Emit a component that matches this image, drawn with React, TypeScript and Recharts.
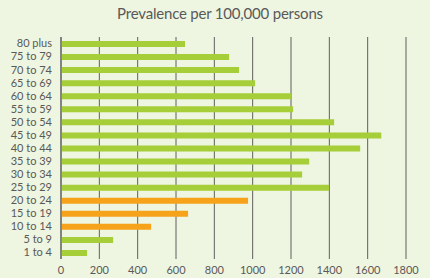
import { BarChart, Bar, XAxis, YAxis, CartesianGrid, Cell } from "recharts";

const ageGroups = [
  "80 plus",
  "75 to 79",
  "70 to 74",
  "65 to 69",
  "60 to 64",
  "55 to 59",
  "50 to 54",
  "45 to 49",
  "40 to 44",
  "35 to 39",
  "30 to 34",
  "25 to 29",
  "20 to 24",
  "15 to 19",
  "10 to 14",
  "5 to 9",
  "1 to 4",
];

const prevalence = [
  647, 877, 929, 1013, 1201, 1211, 1425, 1671, 1561, 1295, 1258, 1399, 976,
  663, 470, 272, 136,
];

const highlighted = ["20 to 24", "15 to 19", "10 to 14"];

const xTicks = [0, 200, 400, 600, 800, 1000, 1200, 1400, 1600, 1800];

const data = ageGroups.map((age, i) => ({ age, value: prevalence[i] }));

const GREEN = "#a6ce39";
const ORANGE = "#f7a21b";
const TEXT = "#595959";
const FONT = "Lato, 'Open Sans', sans-serif";

export default function App() {
  return (
    <div
      style={{
        position: "absolute",
        left: 0,
        top: 0,
        width: 430,
        height: 278,
        background: "#eef5e0",
        fontFamily: FONT,
      }}
    >
      <div
        style={{
          position: "absolute",
          top: 4,
          left: 0,
          width: 440,
          textAlign: "center",
          fontSize: 15,
          color: TEXT,
          letterSpacing: -0.2,
        }}
      >
        Prevalence per 100,000 persons
      </div>
      <BarChart
        width={430}
        height={278}
        data={data}
        layout="vertical"
        margin={{ top: 37, right: 24, bottom: 0, left: 0 }}
        barCategoryGap="55%"
      >
        <CartesianGrid
          horizontal={false}
          vertical
          stroke="#5f5f5f"
          strokeWidth={1}
        />
        <XAxis
          type="number"
          domain={[0, 1800]}
          ticks={xTicks}
          axisLine={false}
          tickLine={false}
          tickSize={0}
          tickMargin={7}
          height={19}
          tick={{ fill: TEXT, fontSize: 11, fontFamily: FONT }}
          interval={0}
        />
        <YAxis
          type="category"
          dataKey="age"
          width={61}
          axisLine={{ stroke: "#5f5f5f" }}
          tickLine={false}
          tickSize={0}
          tickMargin={9}
          tick={{ fill: TEXT, fontSize: 11, fontFamily: FONT }}
          interval={0}
        />
        <Bar dataKey="value" barSize={6} isAnimationActive={false}>
          {data.map((d) => (
            <Cell
              key={d.age}
              fill={highlighted.includes(d.age) ? ORANGE : GREEN}
            />
          ))}
        </Bar>
      </BarChart>
    </div>
  );
}
